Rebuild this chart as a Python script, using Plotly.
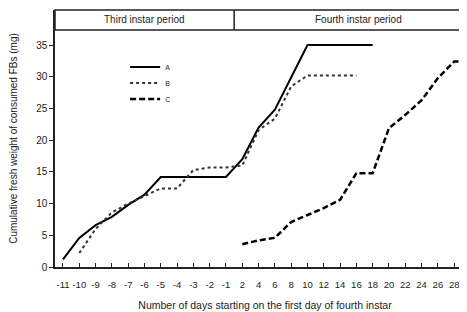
import plotly.graph_objects as go

# Categories (evenly spaced on the axis)
days = ["-11", "-10", "-9", "-8", "-7", "-6", "-5", "-4", "-3", "-2", "-1",
        "2", "4", "6", "8", "10", "12", "14", "16", "18", "20", "22", "24", "26", "28", "30"]

# Series values (None = no data)
A = [1.2, 4.6, 6.6, 7.9, 9.8, 11.4, 14.2, 14.2, 14.2, 14.2, 14.2,
     17.0, 22.0, 24.8, 29.8, 35.0, 35.0, 35.0, 35.0, 35.0,
     None, None, None, None, None, None]
B = [None, 2.2, 6.0, 8.6, 10.0, 11.2, 12.4, 12.4, 15.3, 15.7, 15.7,
     16.0, 21.6, 23.4, 28.5, 30.2, 30.2, 30.2, 30.2,
     None, None, None, None, None, None, None]
C = [None, None, None, None, None, None, None, None, None, None, None,
     3.6, 4.2, 4.6, 7.1, 8.2, 9.3, 10.6, 14.8, 14.8, 21.9, 24.0, 26.3, 29.8, 32.4, 32.4]

y_ticks = [0, 5, 10, 15, 20, 25, 30, 35]
idx = list(range(len(days)))

fig = go.Figure()
fig.add_trace(go.Scatter(x=idx, y=A, mode="lines", name="A", legend="legend",
                         line=dict(color="black", width=2, dash="solid")))
fig.add_trace(go.Scatter(x=idx, y=B, mode="lines", name="B", legend="legend2",
                         line=dict(color="#333333", width=2, dash="dot")))
fig.add_trace(go.Scatter(x=idx, y=C, mode="lines", name="C", legend="legend3",
                         line=dict(color="black", width=2.5, dash="6px,3px")))

# page body has an 8px default offset; compensate in the margins
W, H = 467, 312
ml, mr, mt, mb = 47, 0, 2, 53
ph = H - mt - mb
pw = W - ml - mr
hdr = 1 - 20 / ph
x0 = -0.49
x1 = x0 + pw / 16.3
div = (10.5 - x0) / (x1 - x0)

def leg(fy):
    return dict(x=0.167, y=1 - (fy - mt) / ph, xanchor="left", yanchor="middle",
                font=dict(size=7, color="#222222"), bgcolor="rgba(0,0,0,0)",
                itemwidth=30)

fig.update_layout(
    width=W, height=H,
    margin=dict(l=ml, r=mr, t=mt, b=mb, autoexpand=False),
    paper_bgcolor="white", plot_bgcolor="white",
    font=dict(family="Liberation Sans, Arial, sans-serif", color="#222222", size=9),
    showlegend=True,
    legend=leg(59), legend2=leg(75), legend3=leg(91),
    xaxis=dict(range=[x0, x1], tickmode="array", tickvals=idx, ticktext=days,
               automargin=False,
               showgrid=False, zeroline=False, showline=True, linecolor="#222222",
               linewidth=1.5, ticks="inside", ticklen=4, tickcolor="#222222",
               tickfont=dict(size=9.5), ticklabelstandoff=8,
               title=dict(text="Number of days starting on the first day of fourth instar",
                          font=dict(size=10.5), standoff=12)),
    yaxis=dict(range=[0, ph / 6.34], tickmode="array", tickvals=y_ticks,
               automargin=False,
               showgrid=False, zeroline=False, showline=True, linecolor="#222222",
               linewidth=1.5, ticks="outside", ticklen=4, tickcolor="#222222",
               tickfont=dict(size=10),
               title=dict(text="Cumulative fresh weight of consumed FBs (mg)",
                          font=dict(size=10), standoff=17)),
    shapes=[
        dict(type="rect", xref="paper", yref="paper", x0=0, x1=1.05, y0=hdr, y1=1,
             line=dict(color="#222222", width=1.5), fillcolor="rgba(0,0,0,0)"),
        dict(type="line", xref="paper", yref="paper", x0=div, x1=div, y0=hdr, y1=1,
             line=dict(color="#222222", width=1.5)),
    ],
    annotations=[
        dict(text="Third instar period", xref="paper", yref="paper",
             x=div / 2, y=(hdr + 1) / 2, xanchor="center", yanchor="middle",
             showarrow=False, font=dict(size=10)),
        dict(text="Fourth instar period", xref="paper", yref="paper",
             x=(350 - ml) / pw, y=(hdr + 1) / 2, xanchor="center", yanchor="middle",
             showarrow=False, font=dict(size=10)),
    ],
)

fig.write_html("out.html")
